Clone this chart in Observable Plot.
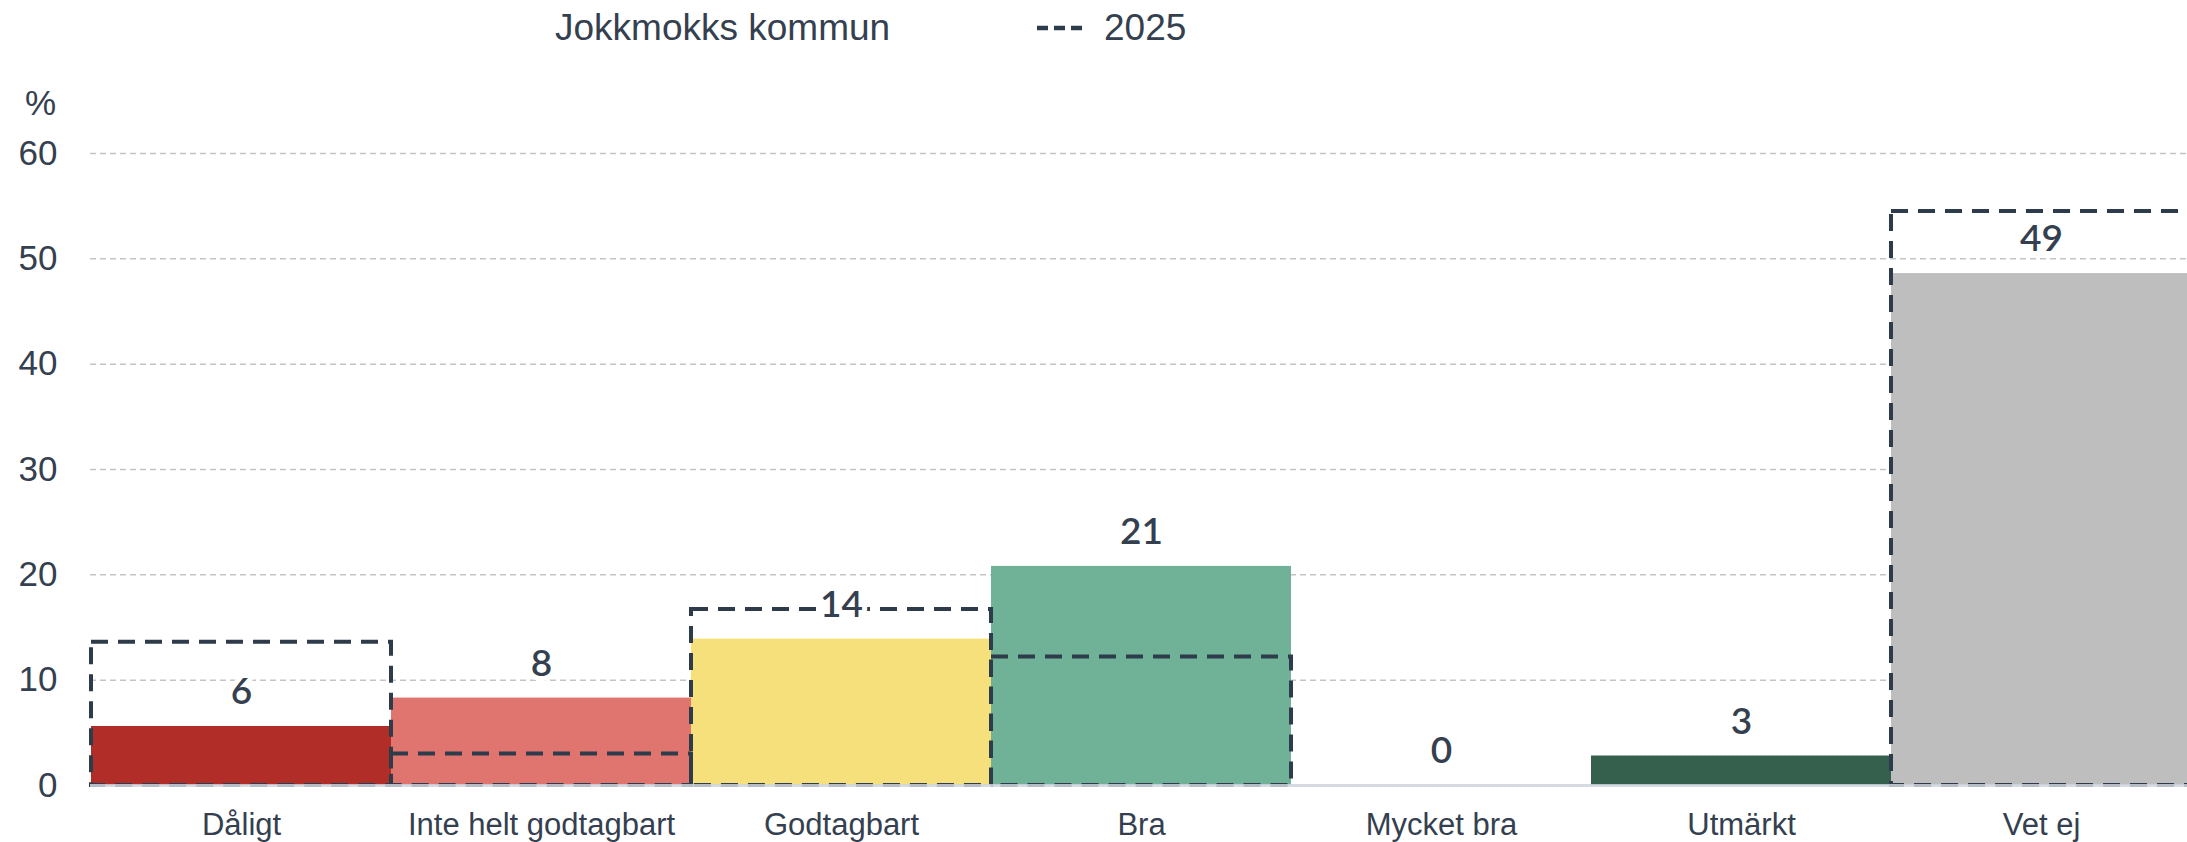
<!DOCTYPE html>
<html>
<head>
<meta charset="utf-8">
<script src="https://cdn.jsdelivr.net/npm/d3@7"></script>
<script src="https://cdn.jsdelivr.net/npm/@observablehq/plot@0.6"></script>
<style>
  html, body { margin: 0; padding: 0; background: #fff; overflow: hidden; }
  #legend { position: relative; width: 2187px; height: 60px; font-family: "Liberation Sans", Arial, sans-serif; color: #34404f; }
  #legend .item { position: absolute; top: 0; line-height: 56px; font-size: 37px; white-space: nowrap; }
  #legend svg { position: absolute; }
  #chart svg { overflow: hidden; }
</style>
</head>
<body>
<div id="legend">
  <div class="item" id="lgA" style="left:555px"></div>
  <svg width="50" height="10" style="left:1037px; top:23px"><line x1="0" y1="5" x2="50" y2="5" stroke="#2d3b4a" stroke-width="4.5" stroke-dasharray="11,6"></line></svg>
  <div class="item" id="lgB" style="left:1104px"></div>
</div>
<div id="chart"></div>
<script>
const categories = ["Dåligt", "Inte helt godtagbart", "Godtagbart", "Bra", "Mycket bra", "Utmärkt", "Vet ej"];
const values = [5.6, 8.3, 13.9, 20.8, 0, 2.8, 48.6];
const values2025 = [13.6, 3.0, 16.7, 12.2, 0, 0, 54.5];
const colors = ["#b02e27", "#e07570", "#f6e07b", "#70b297", "#4d8f6e", "#34604d", "#bebebe"];
const yTicks = [0, 10, 20, 30, 40, 50, 60];
const seriesName = "Jokkmokks kommun";
const compareName = "2025";

document.getElementById("lgA").textContent = seriesName;
document.getElementById("lgB").textContent = compareName;

const data = categories.map((c, i) => ({cat: c, value: values[i], color: colors[i], label: String(Math.round(values[i]))}));
const data2025 = categories.map((c, i) => ({cat: c, value: values2025[i]})).filter(d => d.value > 0);

const textColor = "#34404f";

const chart = Plot.plot({
  width: 2187,
  height: 782,
  marginLeft: 90,
  marginRight: 0,
  marginTop: 93,
  marginBottom: 57,
  x: {domain: categories, padding: 0, label: null, range: [89, 2193]},
  y: {domain: [0, 60], ticks: yTicks, label: null},
  color: {type: "identity"},
  style: {fontFamily: "'Liberation Sans', Arial, sans-serif", color: textColor, background: "white", overflow: "hidden"},
  marks: [
    Plot.gridY(yTicks.filter(d => d > 0), {stroke: "#c4c4c4", strokeOpacity: 1, strokeWidth: 1.5, strokeDasharray: "6,4"}),
    Plot.barY(data, {x: "cat", y: "value", fill: d => d.color}),
    Plot.barY(data2025, {x: "cat", y: "value", fill: "none", stroke: "#2d3b4a", strokeWidth: 4, strokeDasharray: "17,10"}),
    Plot.ruleY([0], {stroke: "#cfd5dc", strokeWidth: 3, strokeOpacity: 0.85}),
    Plot.text(data, {x: "cat", y: "value", text: "label", dy: -34, lineAnchor: "middle", fontFamily: "Lato, sans-serif", fontSize: 37, fontWeight: 600, fill: textColor, stroke: "white", strokeWidth: 10, paintOrder: "stroke"}),
    Plot.text(["%"], {frameAnchor: "top-left", dx: -50, dy: -50, text: d => d, textAnchor: "middle", lineAnchor: "middle", fontSize: 35, fill: textColor}),
    Plot.axisY({ticks: yTicks, tickSize: 0, tickPadding: 33, fontSize: 35, fill: textColor, label: null}),
    Plot.axisX({tickSize: 0, tickPadding: 27, fontSize: 31, fill: textColor, label: null})
  ]
});
document.getElementById("chart").appendChild(chart);
</script>
</body>
</html>
